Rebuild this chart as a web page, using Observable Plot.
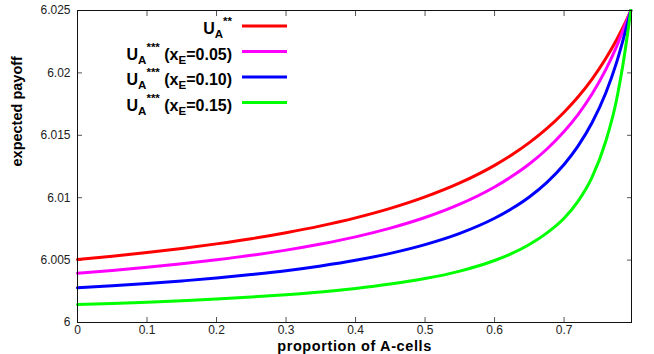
<!DOCTYPE html>
<html><head><meta charset="utf-8">
<script src="https://cdn.jsdelivr.net/npm/d3@7"></script>
<script src="https://cdn.jsdelivr.net/npm/@observablehq/plot@0.6"></script>
<style>
body{margin:0;background:#fff}
#chart svg{display:block}
</style>
</head><body><div id="chart"></div>
<script>
// proportion of A-cells (sample positions)
const xs = [0, 0.05, 0.1, 0.15, 0.2, 0.25, 0.3, 0.35, 0.4, 0.45, 0.5, 0.55, 0.6, 0.625, 0.65, 0.675, 0.7, 0.72, 0.74, 0.76, 0.775, 0.785, 0.796];
// expected payoff, one array per series
const uA2      = [6.00505, 6.00531, 6.0056, 6.00593, 6.0063, 6.00671, 6.00719, 6.00774, 6.00838, 6.00914, 6.01006, 6.01118, 6.01259, 6.01344, 6.01441, 6.01553, 6.01685, 6.01807, 6.01949, 6.02116, 6.0226, 6.02368, 6.025];
const uA3_005  = [6.00395, 6.00417, 6.00442, 6.0047, 6.00502, 6.00538, 6.0058, 6.00629, 6.00686, 6.00756, 6.00841, 6.00948, 6.01086, 6.01171, 6.0127, 6.01388, 6.0153, 6.01666, 6.01829, 6.02026, 6.02205, 6.02343, 6.025];
const uA3_010  = [6.00278, 6.00294, 6.00312, 6.00333, 6.00356, 6.00384, 6.00415, 6.00453, 6.00498, 6.00554, 6.00624, 6.00714, 6.00835, 6.00913, 6.01006, 6.01121, 6.01266, 6.01413, 6.01598, 6.01839, 6.02074, 6.02267, 6.025];
const uA3_015  = [6.00144, 6.00153, 6.00163, 6.00175, 6.00188, 6.00204, 6.00223, 6.00245, 6.00273, 6.00308, 6.00352, 6.00412, 6.00497, 6.00553, 6.00625, 6.00716, 6.00835, 6.0097, 6.0116, 6.01452, 6.01771, 6.02077, 6.025];

const seriesNames  = ["UA**", "UA*** (xE=0.05)", "UA*** (xE=0.10)", "UA*** (xE=0.15)"];
const seriesColors = ["#ff0000", "#ff00ff", "#0000ff", "#00ff00"];
// legend label pieces: [text, role] role 0 = normal, -1 = subscript, 1 = superscript
const legendParts = [
  [["U",0],["A",-1],["**",1]],
  [["U",0],["A",-1],["***",1],[" (x",0],["E",-1],["=0.05)",0]],
  [["U",0],["A",-1],["***",1],[" (x",0],["E",-1],["=0.10)",0]],
  [["U",0],["A",-1],["***",1],[" (x",0],["E",-1],["=0.15)",0]]
];

const xTicks = [0, 0.1, 0.2, 0.3, 0.4, 0.5, 0.6, 0.7];
const xTickLabels = ["0", "0.1", "0.2", "0.3", "0.4", "0.5", "0.6", "0.7"];
const yTicks = [6, 6.005, 6.01, 6.015, 6.02, 6.025];
const yTickLabels = ["6", "6.005", "6.01", "6.015", "6.02", "6.025"];
const xTitle = "proportion of A-cells";
const yTitle = "expected payoff";

const allSeries = [uA2, uA3_005, uA3_010, uA3_015];
const data = [];
allSeries.forEach((vals, k) => vals.forEach((v, i) => data.push({x: xs[i], y: v, s: seriesNames[k]})));

const font = "'Liberation Sans', Arial, Helvetica, sans-serif";
const tickColor = "#555";

const chart = Plot.plot({
  width: 654,
  height: 354,
  marginLeft: 77,
  marginRight: 23,
  marginTop: 10,
  marginBottom: 32,
  style: {fontFamily: font, fontSize: "12px", color: "#000", background: "#fff", overflow: "visible"},
  x: {domain: [0, 0.797]},
  y: {domain: [6, 6.025]},
  color: {domain: seriesNames, range: seriesColors},
  marks: [
    Plot.axisX(xTicks, {anchor: "bottom", tickSize: 0, tickPadding: 3, label: null, fill: "#222",
      tickFormat: (d, i) => xTickLabels[i]}),
    Plot.axisX(xTicks, {anchor: "bottom", tickSize: -5, fill: "none", label: null, stroke: tickColor}),
    Plot.axisX(xTicks, {anchor: "top", tickSize: -5, fill: "none", label: null, stroke: tickColor}),
    Plot.axisY(yTicks, {anchor: "left", tickSize: 0, tickPadding: 7, label: null, fill: "#222",
      tickFormat: (d, i) => yTickLabels[i]}),
    Plot.axisY(yTicks, {anchor: "left", tickSize: -5, fill: "none", label: null, stroke: tickColor}),
    Plot.axisY(yTicks, {anchor: "right", tickSize: -5, fill: "none", label: null, stroke: tickColor}),
    Plot.line(data, {x: "x", y: "y", z: "s", stroke: "s", strokeWidth: 3, curve: "monotone-x"}),
    Plot.frame({stroke: "#111", strokeWidth: 1}),
    Plot.text([xTitle], {frameAnchor: "bottom", lineAnchor: "middle", dy: 24, fontWeight: "bold", fontSize: 14.5,
      fill: "#000", style: {letterSpacing: "0.6px"}}),
    Plot.text([yTitle], {frameAnchor: "left", lineAnchor: "middle", dx: -60, rotate: -90, fontWeight: "bold", fontSize: 14.5, fill: "#000"})
  ]
});

// legend (inside the plot area, upper left) built from the series arrays
const svg = d3.select(chart);
const rowY = [26, 51.5, 77, 102.5];
const leg = svg.append("g").attr("font-family", font).attr("font-weight", "bold");
legendParts.forEach((parts, i) => {
  const t = leg.append("text").attr("x", 232).attr("y", rowY[i] + 8).attr("text-anchor", "end")
    .attr("font-size", 16).attr("fill", "#000");
  let cur = 0;
  parts.forEach(([txt, role]) => {
    const shift = role === -1 ? 4 : role === 1 ? -9 : 0;
    t.append("tspan").attr("dy", shift - cur).attr("font-size", role === 0 ? 16 : 11.5).text(txt);
    cur = shift;
  });
  leg.append("line").attr("x1", 242).attr("x2", 287).attr("y1", rowY[i]).attr("y2", rowY[i])
    .attr("stroke", seriesColors[i]).attr("stroke-width", 3);
});

// letter spacing on the x title
svg.selectAll("text").filter(function() { return this.textContent === xTitle; }).attr("letter-spacing", "0.6px");

document.getElementById("chart").appendChild(chart);
</script>
</body></html>
